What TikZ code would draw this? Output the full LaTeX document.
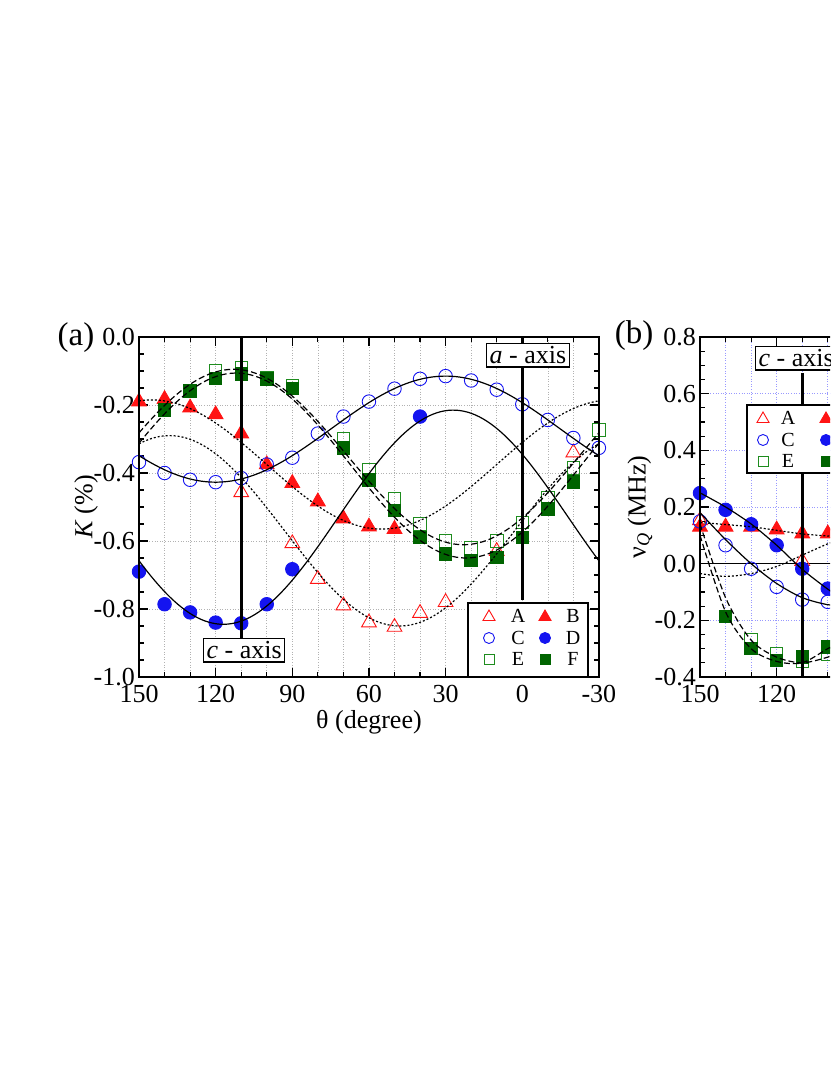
\documentclass[tikz,border=0pt]{standalone}
\usepackage{fontspec}
\setmainfont{Liberation Serif}
\usetikzlibrary{shapes.geometric}
\definecolor{mred}{RGB}{255,20,20}
\definecolor{mblue}{RGB}{20,20,240}
\definecolor{mgreen}{RGB}{0,100,0}
\definecolor{ogreen}{RGB}{30,140,30}
\tikzset{
 otri/.style={regular polygon,regular polygon sides=3,minimum size=17pt,inner sep=0pt,draw=mred,line width=0.9pt},
 ftri/.style={otri,fill=mred},
 ocir/.style={circle,minimum size=13.5pt,inner sep=0pt,draw=mblue,line width=0.9pt},
 fcir/.style={ocir,fill=mblue},
 osq/.style={rectangle,minimum size=12.5pt,inner sep=0pt,draw=ogreen,line width=0.9pt},
 fsq/.style={osq,draw=mgreen,fill=mgreen},
 gridA/.style={gray!60,dotted,line width=0.6pt},
 gridB/.style={blue!40,dotted,line width=0.6pt},
 frm/.style={line width=1.8pt},
 tk/.style={line width=1.2pt},
 axl/.style={line width=3.2pt},
 lbox/.style={draw,fill=white,line width=1.3pt,inner sep=3pt},
 curv/.style={line width=1.2pt},
 dotc/.style={dash pattern=on 2pt off 2pt},
 dashc/.style={dash pattern=on 6pt off 3pt},
 lab/.style={font=\fontsize{26}{30}\selectfont},
 leg/.style={font=\fontsize{20}{22}\selectfont,inner sep=0pt},
 declare function={xa(\t)=139+(150-\t)*2.555; ya(\k)=337-\k*340; xb(\t)=700+(150-\t)*2.555; yb(\v)=337+(0.8-\v)*283.3;}
}
\begin{document}
\begin{tikzpicture}[x=1pt,y=-1pt]
\useasboundingbox (0,0) rectangle (830,1075);
% ---------- panel (a) ----------
\foreach \t in {140,130,...,-20} \draw[gridA] ({xa(\t)},337) -- ({xa(\t)},677);
\foreach \k in {-0.2,-0.4,-0.6,-0.8} \draw[gridA] (139,{ya(\k)}) -- (599,{ya(\k)});
\foreach \t in {150,140,...,-30} {
  \pgfmathsetmacro\L{(mod(abs(\t),30)==0)?9:5}
  \draw[tk] ({xa(\t)},677) -- ++(0,-\L);
  \draw[tk] ({xa(\t)},337) -- ++(0,\L);}
\foreach \i in {0,...,20} {
  \pgfmathsetmacro\L{(mod(\i,4)==0)?9:5}
  \draw[tk] (139,{337+\i*17}) -- ++(\L,0);
  \draw[tk] (599,{337+\i*17}) -- ++(-\L,0);}
\foreach \t/\s in {150/150,120/120,90/90,60/60,30/30,0/0,-30/-30}
  \node[lab,anchor=north,inner sep=1pt] at ({xa(\t)},684) {\s};
\foreach \k/\s in {0/0.0,-0.2/-0.2,-0.4/-0.4,-0.6/-0.6,-0.8/-0.8,-1/-1.0}
  \node[lab,anchor=east,inner sep=2pt] at (137,{ya(\k)}) {\s};
\node[lab] (tha) at ({xa(60)},722) {θ (degree)};
\node[lab,rotate=90] (ka) at (86,{ya(-0.5)}) {\textit{K} (\%)};
\node[font=\fontsize{33}{36}\selectfont] (pa) at (76,338) {(a)};
% markers
\foreach \t/\k in {110/-0.457,90/-0.607,80/-0.712,70/-0.79,60/-0.84,50/-0.853,40/-0.812,30/-0.78,10/-0.63,-20/-0.34}
  \node[otri] at ({xa(\t)},{ya(\k)}) {};
\foreach \t/\k in {150/-0.19,140/-0.183,130/-0.208,120/-0.228,110/-0.284,100/-0.375,90/-0.43,80/-0.484,70/-0.534,60/-0.558,50/-0.565}
  \node[ftri] at ({xa(\t)},{ya(\k)}) {};
\foreach \t/\k in {150/-0.368,140/-0.40,130/-0.42,120/-0.427,110/-0.415,100/-0.375,90/-0.355,80/-0.284,70/-0.234,60/-0.19,50/-0.152,40/-0.123,30/-0.115,20/-0.128,10/-0.155,0/-0.198,-10/-0.244,-20/-0.297,-30/-0.326}
  \node[ocir] at ({xa(\t)},{ya(\k)}) {};
\foreach \t/\k in {150/-0.69,140/-0.786,130/-0.81,120/-0.84,110/-0.842,100/-0.786,90/-0.683,40/-0.234}
  \node[fcir] at ({xa(\t)},{ya(\k)}) {};
\foreach \t/\k in {130/-0.158,120/-0.10,110/-0.09,100/-0.12,90/-0.144,70/-0.30,60/-0.39,50/-0.475,40/-0.55,30/-0.60,20/-0.62,10/-0.60,0/-0.546,-10/-0.474,-20/-0.385,-30/-0.274}
  \node[osq] at ({xa(\t)},{ya(\k)}) {};
\foreach \t/\k in {140/-0.215,130/-0.158,120/-0.122,110/-0.109,100/-0.124,90/-0.152,70/-0.326,60/-0.42,50/-0.51,40/-0.59,30/-0.638,20/-0.657,10/-0.648,0/-0.59,-10/-0.505,-20/-0.426}
  \node[fsq] at ({xa(\t)},{ya(\k)}) {};
% curves
\draw[curv,dotc,domain=150:-30,samples=120] plot ({xa(\x)},{ya(-0.57-0.28*cos(2*(\x-48)))});
\draw[curv,dotc,domain=150:-30,samples=120] plot ({xa(\x)},{ya(-0.375+0.19*cos(2*(\x-145)))});
\draw[curv,domain=150:-30,samples=120] plot ({xa(\x)},{ya(-0.271+0.156*cos(2*(\x-30)))});
\draw[curv,domain=150:-30,samples=120] plot ({xa(\x)},{ya(-0.53-0.315*cos(2*(\x-117)))});
\draw[curv,dashc,domain=150:-30,samples=120] plot ({xa(\x)},{ya(-0.353+0.258*cos(2*(\x-113)))});
\draw[curv,dashc,domain=150:-30,samples=120] plot ({xa(\x)},{ya(-0.378+0.272*cos(2*(\x-112)))});
% axes lines and labels
\draw[axl] ({xa(0)},337) -- ({xa(0)},600);
\draw[axl] ({xa(110)},337) -- ({xa(110)},638);
\node[lab,lbox,anchor=north west] (aax) at (486,343) {\textit{a} - axis};
\node[lab,lbox,anchor=north west] (cax) at (203,638) {\textit{c} - axis};
% legend
\draw[lbox] (468,603) rectangle (588,677);
\node[otri,minimum size=14pt] at (489,617) {}; \node[leg] at (518,616) {A};
\node[ftri,minimum size=14pt] at (545,617) {}; \node[leg] at (573,616) {B};
\node[ocir,minimum size=11pt] at (489,638) {}; \node[leg] at (518,638) {C};
\node[fcir,minimum size=11pt] at (545,638) {}; \node[leg] at (573,638) {D};
\node[osq,minimum size=10pt] at (489,659) {}; \node[leg] at (518,659) {E};
\node[fsq,minimum size=10pt] at (545,659) {}; \node[leg] at (573,659) {F};
\draw[frm] (139,337) rectangle (599,677);
% ---------- panel (b) ----------
\begin{scope}
\clip (600,300) rectangle (830,740);
\foreach \t in {140,130,...,100} \draw[gridB] ({xb(\t)},337) -- ({xb(\t)},677);
\foreach \v in {0.6,0.4,0.2,-0.2} \draw[gridB] (700,{yb(\v)}) -- (840,{yb(\v)});
\draw[line width=1.2pt] (700,{yb(0)}) -- (840,{yb(0)});
\foreach \t in {150,140,...,90} {
  \pgfmathsetmacro\L{(mod(abs(\t),30)==0)?9:5}
  \draw[tk] ({xb(\t)},677) -- ++(0,-\L);
  \draw[tk] ({xb(\t)},337) -- ++(0,\L);}
\foreach \i in {0,...,24} {
  \pgfmathsetmacro\L{(mod(\i,4)==0)?9:5}
  \draw[tk] (700,{337+\i*14.165}) -- ++(\L,0);}
\foreach \t/\k in {150/0.153,110/0.009} \node[otri] at ({xb(\t)},{yb(\k)}) {};
\foreach \t/\k in {150/0.13,140/0.13,130/0.13,120/0.12,110/0.106,100/0.106} \node[ftri] at ({xb(\t)},{yb(\k)}) {};
\foreach \t/\k in {150/0.149,140/0.065,130/-0.018,120/-0.082,110/-0.127,100/-0.135} \node[ocir] at ({xb(\t)},{yb(\k)}) {};
\foreach \t/\k in {150/0.249,140/0.19,130/0.139,120/0.065,110/-0.018,100/-0.088} \node[fcir] at ({xb(\t)},{yb(\k)}) {};
\foreach \t/\k in {130/-0.27,120/-0.318,110/-0.345,100/-0.32} \node[osq] at ({xb(\t)},{yb(\k)}) {};
\foreach \t/\k in {140/-0.186,130/-0.30,120/-0.341,110/-0.33,100/-0.294} \node[fsq] at ({xb(\t)},{yb(\k)}) {};
\draw[curv] plot[smooth] coordinates {({xb(150)},{yb(0.25)}) ({xb(140)},{yb(0.20)}) ({xb(130)},{yb(0.14)}) ({xb(120)},{yb(0.065)}) ({xb(110)},{yb(-0.02)}) ({xb(100)},{yb(-0.09)}) ({xb(95)},{yb(-0.12)})};
\draw[curv] plot[smooth] coordinates {({xb(150)},{yb(0.18)}) ({xb(140)},{yb(0.085)}) ({xb(130)},{yb(0.0)}) ({xb(120)},{yb(-0.07)}) ({xb(110)},{yb(-0.12)}) ({xb(100)},{yb(-0.145)}) ({xb(95)},{yb(-0.145)})};
\draw[curv,dotc] plot[smooth] coordinates {({xb(150)},{yb(0.145)}) ({xb(130)},{yb(0.13)}) ({xb(110)},{yb(0.105)}) ({xb(95)},{yb(0.095)})};
\draw[curv,dotc] plot[smooth] coordinates {({xb(150)},{yb(-0.035)}) ({xb(140)},{yb(-0.045)}) ({xb(130)},{yb(-0.035)}) ({xb(120)},{yb(-0.01)}) ({xb(110)},{yb(0.03)}) ({xb(100)},{yb(0.07)}) ({xb(95)},{yb(0.085)})};
\draw[curv,dashc] plot[smooth] coordinates {({xb(150)},{yb(0.14)}) ({xb(140)},{yb(-0.12)}) ({xb(130)},{yb(-0.27)}) ({xb(120)},{yb(-0.33)}) ({xb(110)},{yb(-0.35)}) ({xb(100)},{yb(-0.33)}) ({xb(95)},{yb(-0.31)})};
\draw[curv,dashc] plot[smooth] coordinates {({xb(150)},{yb(0.10)}) ({xb(140)},{yb(-0.17)}) ({xb(130)},{yb(-0.30)}) ({xb(120)},{yb(-0.345)}) ({xb(110)},{yb(-0.35)}) ({xb(100)},{yb(-0.30)}) ({xb(95)},{yb(-0.28)})};
\draw[axl] ({xb(110)},{373}) -- ({xb(110)},677);
\node[lab,lbox,anchor=north west] (cbx) at (755,346) {\textit{c} - axis};
\draw[lbox] (747,405) rectangle (900,473);
\node[otri,minimum size=14pt] at (763,419) {}; \node[leg] at (788,418) {A};
\node[ftri,minimum size=14pt] at (826,419) {};
\node[ocir,minimum size=11pt] at (763,440) {}; \node[leg] at (788,440) {C};
\node[fcir,minimum size=11pt] at (826,440) {};
\node[osq,minimum size=10pt] at (763,461) {}; \node[leg] at (788,461) {E};
\node[fsq,minimum size=10pt] at (826,461) {};
\draw[frm] (700,337) rectangle (900,677);
\end{scope}
\foreach \v/\s in {0.8/0.8,0.6/0.6,0.4/0.4,0.2/0.2,0/0.0,-0.2/-0.2,-0.4/-0.4}
  \node[lab,anchor=east,inner sep=2pt] at (698,{yb(\v)}) {\s};
\foreach \t in {150,120} \node[lab,anchor=north,inner sep=1pt] at ({xb(\t)},684) {\t};
\node[lab,rotate=90] (nu) at (640,{yb(0.2)}) {ν\textsubscript{\textit{Q}} (MHz)};
\node[font=\fontsize{33}{36}\selectfont] (pb) at (634,336) {(b)};
\end{tikzpicture}
\end{document}
